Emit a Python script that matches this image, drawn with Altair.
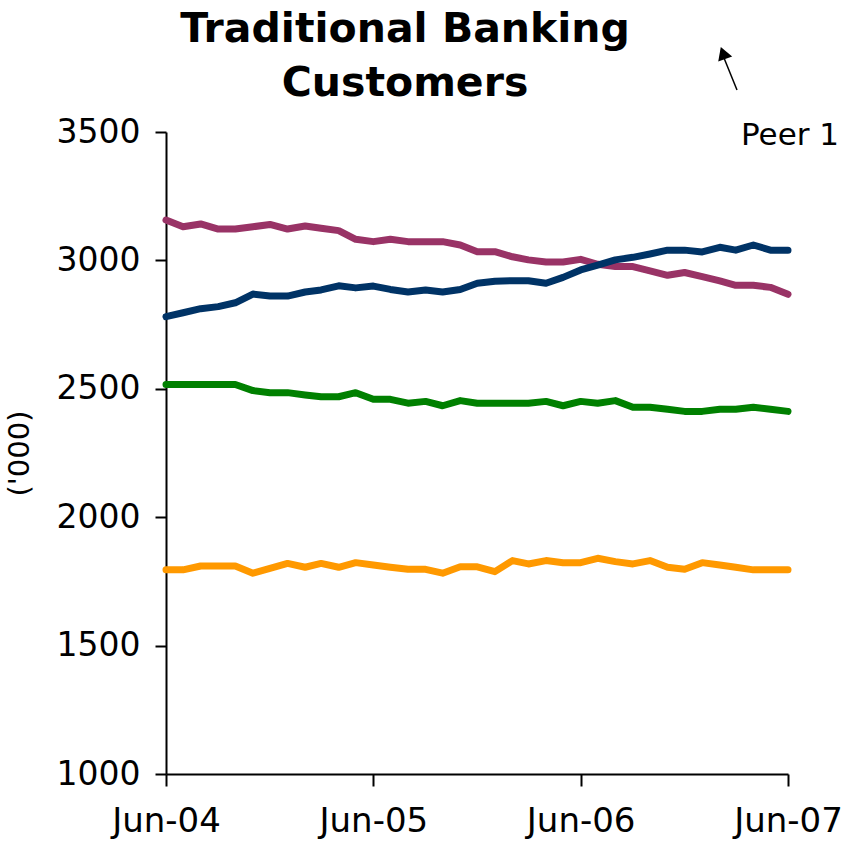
import altair as alt
import pandas as pd

months = pd.date_range("2004-06-01", "2007-06-01", freq="MS").strftime("%Y-%m-%d").tolist()

series_a = [3157, 3131, 3142, 3122, 3122, 3131, 3140, 3122, 3134, 3125, 3116, 3082, 3073,
            3082, 3073, 3073, 3073, 3060, 3034, 3034, 3014, 3002, 2994, 2994, 3004, 2985,
            2976, 2976, 2959, 2942, 2953, 2937, 2920, 2903, 2903, 2895, 2868]
series_b = [2781, 2796, 2812, 2820, 2835, 2869, 2861, 2861, 2877, 2885, 2901, 2893, 2900,
            2887, 2877, 2885, 2877, 2887, 2911, 2919, 2921, 2921, 2911, 2934, 2963, 2982,
            3002, 3012, 3025, 3040, 3040, 3033, 3051, 3040, 3060, 3040, 3040]
series_c = [2517, 2517, 2517, 2517, 2517, 2493, 2485, 2485, 2476, 2469, 2469, 2485, 2459,
            2459, 2444, 2451, 2434, 2454, 2444, 2444, 2444, 2444, 2451, 2434, 2451, 2444,
            2454, 2428, 2428, 2420, 2412, 2412, 2420, 2420, 2428, 2420, 2412]
series_d = [1795, 1795, 1810, 1810, 1810, 1782, 1801, 1820, 1805, 1820, 1805, 1823, 1814,
            1805, 1797, 1797, 1782, 1807, 1807, 1788, 1831, 1818, 1831, 1823, 1823, 1840,
            1827, 1818, 1831, 1805, 1797, 1823, 1814, 1805, 1795, 1795, 1795]

names = ["Series A", "Series B", "Series C", "Series D"]
colors = ["#993366", "#003366", "#008000", "#FF9900"]
y_ticks = [1000, 1500, 2000, 2500, 3000, 3500]

rows = []
for name, vals in zip(names, [series_a, series_b, series_c, series_d]):
    for m, v in zip(months, vals):
        rows.append({"month": m, "series": name, "value": v})
df = pd.DataFrame(rows)

FONT = "DejaVu Sans"

x_vals = [alt.DateTime(year=y, month=6, date=1, utc=True) for y in (2004, 2005, 2006, 2007)]

lines = alt.Chart(df).mark_line(strokeWidth=7, strokeCap="round", strokeJoin="round").encode(
    x=alt.X("month:T",
            scale=alt.Scale(type="utc",
                            domain=[alt.DateTime(year=2004, month=6, date=1, utc=True),
                                    alt.DateTime(year=2007, month=6, date=1, utc=True)]),
            axis=alt.Axis(values=x_vals, format="%b-%y", title=None, grid=False,
                          tickSize=12, tickWidth=2, domainWidth=2, domainColor="black",
                          tickColor="black", labelFontSize=34, labelFont=FONT,
                          labelColor="black", labelPadding=18, labelFlush=False)),
    y=alt.Y("value:Q",
            scale=alt.Scale(domain=[1000, 3500], nice=False, zero=False),
            axis=alt.Axis(values=y_ticks, format="d", title="('000)", grid=False, tickSize=11,
                          tickWidth=2, domainWidth=2, domainColor="black",
                          tickColor="black", labelFontSize=33, labelFont=FONT,
                          labelColor="black", labelPadding=15,
                          titleFontSize=29, titleFont=FONT, titleFontWeight="normal",
                          titleColor="black", titleX=-132, titleY=321, titleAngle=270,
                          titleBaseline="bottom", titleAlign="center")),
    color=alt.Color("series:N", scale=alt.Scale(domain=names, range=colors), legend=None),
)

ann = pd.DataFrame({"label": ["Peer 1"]})

peer_text = alt.Chart(ann).mark_text(font=FONT, fontSize=31, align="center",
                                     baseline="alphabetic", color="black").encode(
    x=alt.value(624), y=alt.value(13), text="label:N")

arrow_line = alt.Chart(ann).mark_rule(color="black", strokeWidth=1.5).encode(
    x=alt.value(571), y=alt.value(-42), x2=alt.value(558), y2=alt.value(-74))

arrow_head = alt.Chart(ann).mark_point(shape="triangle-up", filled=True, color="black",
                                       opacity=1, size=220, angle=340).encode(
    x=alt.value(557), y=alt.value(-79))

chart = alt.layer(lines, peer_text, arrow_line, arrow_head).properties(
    width=622, height=642,
    autosize=alt.AutoSizeParams(type="none"),
    padding={"left": 166, "top": 132, "right": 66, "bottom": 68},
    title=alt.TitleParams(["Traditional Banking", "Customers"], fontSize=41, font=FONT,
                          fontWeight="bold", anchor="middle", frame="group", dx=-72,
                          dy=84, offset=26, lineHeight=54, color="black"),
).configure_view(stroke=None)

chart.save("out.html", embed_options={"renderer": "svg", "actions": False})
